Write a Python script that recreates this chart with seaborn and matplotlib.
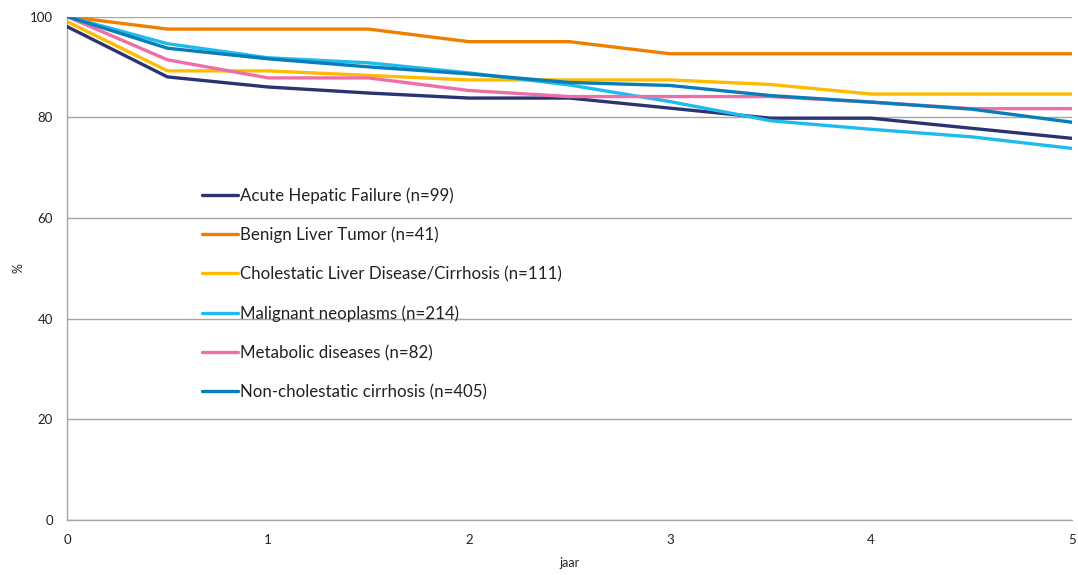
import matplotlib
matplotlib.use("Agg")
import matplotlib.pyplot as plt
import seaborn as sns
import pandas as pd

years = [0, 0.5, 1, 1.5, 2, 2.5, 3, 3.5, 4, 4.5, 5]
series_names = [
    "Acute Hepatic Failure (n=99)",
    "Benign Liver Tumor (n=41)",
    "Cholestatic Liver Disease/Cirrhosis (n=111)",
    "Malignant neoplasms (n=214)",
    "Metabolic diseases (n=82)",
    "Non-cholestatic cirrhosis (n=405)",
]
acute = [98.0, 88.0, 86.0, 84.8, 83.8, 83.8, 81.8, 79.8, 79.8, 77.8, 75.8]
benign = [100.0, 97.5, 97.5, 97.5, 95.0, 95.0, 92.6, 92.6, 92.6, 92.6, 92.6]
cholestatic = [99.0, 89.2, 89.2, 88.3, 87.4, 87.4, 87.4, 86.5, 84.6, 84.6, 84.6]
malignant = [100.0, 94.6, 91.8, 90.8, 88.8, 86.4, 83.1, 79.3, 77.6, 76.1, 73.8]
metabolic = [100.0, 91.4, 87.8, 87.8, 85.3, 84.1, 84.1, 84.1, 83.0, 81.7, 81.7]
noncholestatic = [100.0, 93.7, 91.6, 90.0, 88.6, 86.9, 86.3, 84.3, 83.0, 81.6, 79.0]
colors = ["#2B3470", "#F07F00", "#FFBB00", "#1EBBEE", "#EE6FA6", "#0A7CB8"]

all_vals = [acute, benign, cholestatic, malignant, metabolic, noncholestatic]
rows = []
for name, vals in zip(series_names, all_vals):
    for x, v in zip(years, vals):
        rows.append({"jaar": x, "%": v, "serie": name})
df = pd.DataFrame(rows)

sns.set_theme(style="white")
plt.rcParams["font.family"] = ["Lato", "DejaVu Sans"]

fig = plt.figure(figsize=(10.78, 5.75), dpi=100)
ax = fig.add_axes([67 / 1078, 1 - 520 / 575, (1072 - 67) / 1078, (520 - 16.5) / 575])

sns.lineplot(data=df, x="jaar", y="%", hue="serie", palette=colors,
             linewidth=2.4, ax=ax, legend=True, zorder=3)

ax.set_xlim(0, 5)
ax.set_ylim(0, 100)
ax.set_xticks([0, 1, 2, 3, 4, 5])
ax.set_yticks([0, 20, 40, 60, 80, 100])
ax.tick_params(axis="both", length=0, labelsize=9.5, colors="#222222")
ax.tick_params(axis="x", pad=10)
ax.tick_params(axis="y", pad=10)
ax.yaxis.grid(True, color="#A6A6A6", linewidth=1.0, zorder=0)
ax.xaxis.grid(False)
for s in ["top", "right"]:
    ax.spines[s].set_visible(False)
for s in ["left", "bottom"]:
    ax.spines[s].set_color("#A6A6A6")
    ax.spines[s].set_linewidth(1.0)

ax.set_xlabel("jaar", fontsize=9, color="#222222", labelpad=8)
ax.set_ylabel("%", fontsize=9, color="#222222", labelpad=4)

handles, labels = ax.get_legend_handles_labels()
leg = ax.legend(handles, labels, loc="upper left",
                bbox_to_anchor=(202 / 1078, 1 - 187 / 575),
                bbox_transform=fig.transFigure, frameon=False,
                fontsize=12.2, handlelength=2.1, handletextpad=0.12,
                labelspacing=1.36, borderpad=0, borderaxespad=0)
for line in leg.get_lines():
    line.set_linewidth(2.4)
for t in leg.get_texts():
    t.set_color("#222222")

fig.savefig("out.png", dpi=100)
